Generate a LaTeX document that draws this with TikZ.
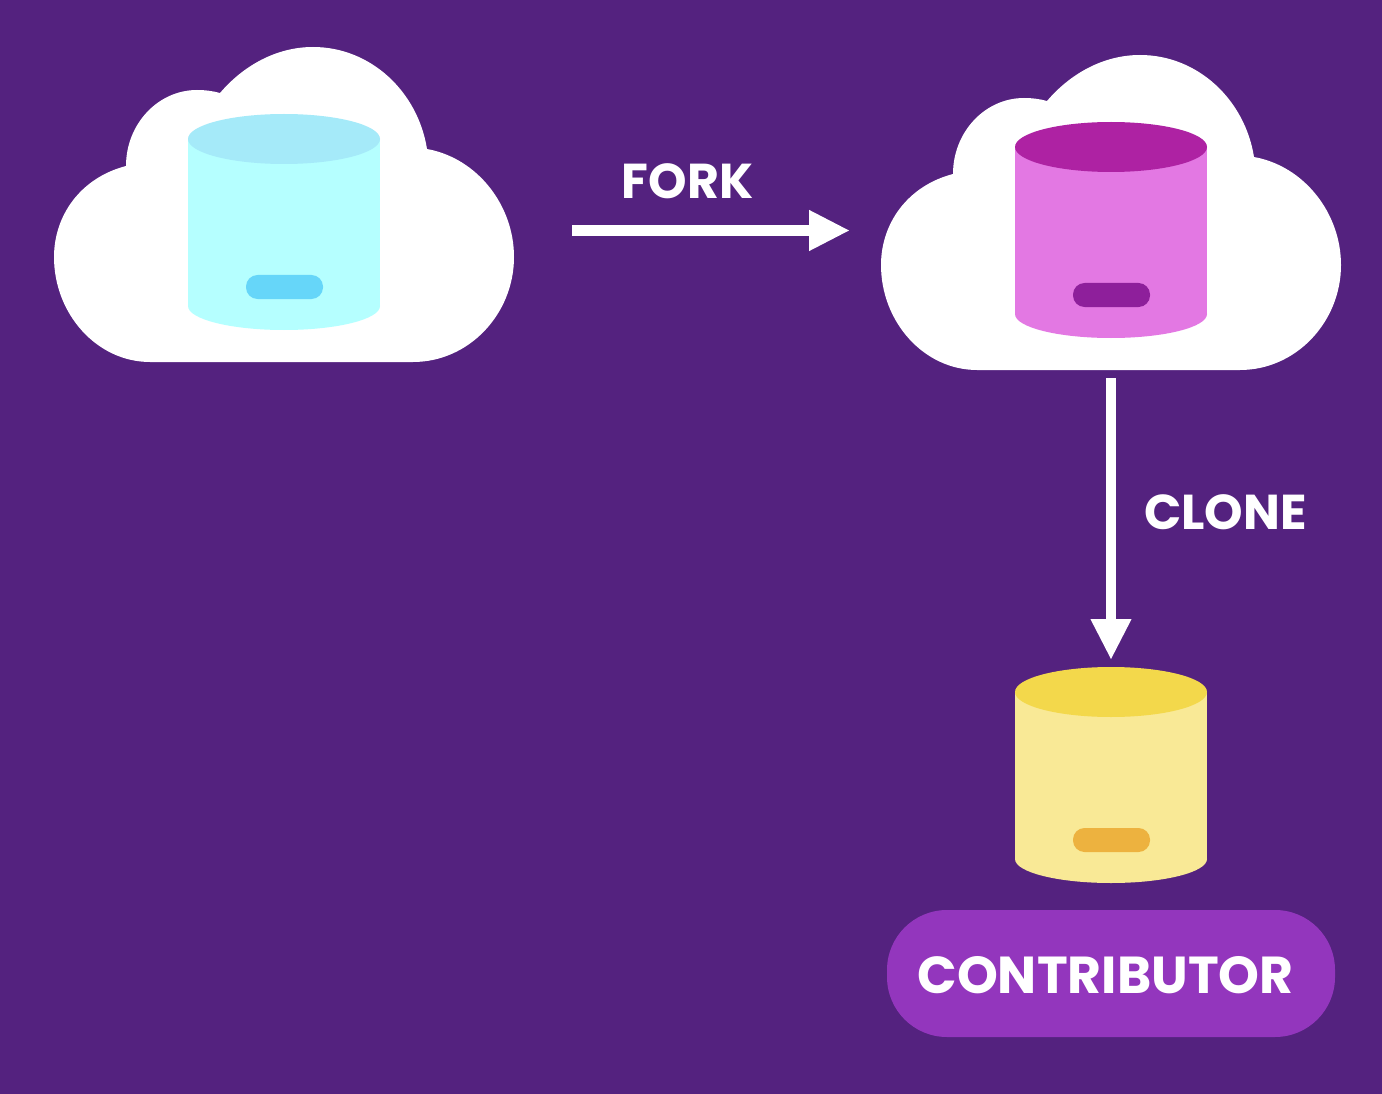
\documentclass[tikz,border=0pt]{standalone}
\usepackage{fontspec}
\setmainfont{Poppins}
\usetikzlibrary{arrows.meta}
\definecolor{bgpurple}{HTML}{54227F}
\definecolor{pillpurple}{HTML}{9336BD}
\definecolor{cyanbody}{HTML}{B5FFFF}
\definecolor{cyantop}{HTML}{A5EAF9}
\definecolor{cyanpill}{HTML}{66D6F9}
\definecolor{pinkbody}{HTML}{E378E3}
\definecolor{pinktop}{HTML}{AE22A3}
\definecolor{pinkpill}{HTML}{8E1F9B}
\definecolor{yellowbody}{HTML}{F9E996}
\definecolor{yellowtop}{HTML}{F3D84B}
\definecolor{yellowpill}{HTML}{EDB23F}
\tikzstyle{caption}=[text=white, inner sep=0pt, font=\fontsize{49}{54}\selectfont\bfseries]
\tikzstyle{arrow}=[draw=white, -{Triangle[length=41pt, width=38pt]}]
\newcommand{\cloudshape}[2]{
	\fill[white, shift={(#1,#2)}] (150,362)
		.. controls (97,362) and (54,314) .. (54,257)
		.. controls (54,216) and (80,178) .. (126,166)
		.. controls (126,124) and (158,90) .. (197,90)
		.. controls (205,90) and (213,91) .. (220,93)
		.. controls (243,66) and (276,47) .. (313,47)
		.. controls (371,47) and (418,92) .. (427,149)
		.. controls (477,158) and (514,205) .. (514,257)
		.. controls (514,314) and (469,362) .. (413,362) -- cycle;
}
\newcommand{\dbshape}[5]{
	\begin{scope}[shift={(#1,#2)}]
		\fill[#3] (188,139) rectangle (380,306);
		\fill[#3] (284,306) ellipse [x radius=96, y radius=24];
		\fill[#4] (284,139) ellipse [x radius=96, y radius=25];
		\fill[#5, rounded corners=11.5pt] (246,275) rectangle (323,299);
	\end{scope}
}

\begin{document}
\begin{tikzpicture}[x=1pt, y=-1pt]
	\useasboundingbox (0,0) rectangle (1382,1094);
	\fill[bgpurple] (0,0) rectangle (1382,1094);
	\cloudshape{0}{0}
	\cloudshape{827}{8}
	\dbshape{0}{0}{cyanbody}{cyantop}{cyanpill}
	\dbshape{827}{8}{pinkbody}{pinktop}{pinkpill}
	\dbshape{827}{553}{yellowbody}{yellowtop}{yellowpill}
	\coordinate (forkstart) at (572,230.5);
	\coordinate (forkend) at (850,230.5);
	\coordinate (clonestart) at (1111,378);
	\coordinate (cloneend) at (1111,660);
	\node[caption] (forklabel) at (687.5,181) {FORK};
	\node[caption] (clonelabel) at (1225.5,512) {CLONE};
	\node[fill=pillpurple, rounded corners=60pt, minimum width=448pt, minimum height=127pt, inner sep=0pt, text height=40pt, text depth=1pt, text=white, font=\fontsize{52}{56}\selectfont\bfseries] (contributor) at (1111,973.5) {CONTRIBUTOR\kern11pt};
	\path[arrow, line width=11pt] (forkstart)--(forkend);
	\path[arrow, line width=10pt] (clonestart)--(cloneend);
\end{tikzpicture}
\end{document}
